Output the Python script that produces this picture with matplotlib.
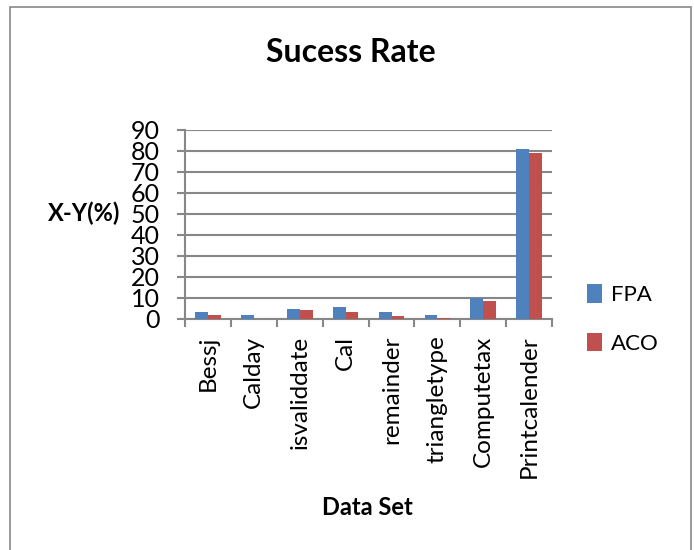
import matplotlib.pyplot as plt
import numpy as np
from matplotlib.patches import Rectangle

plt.rcParams['font.family'] = ['Lato', 'DejaVu Sans']

datasets = ["Bessj", "Calday", "isvaliddate", "Cal", "remainder",
            "triangletype", "Computetax", "Printcalender"]
fpa = [3.4, 1.9, 4.9, 5.6, 3.2, 1.9, 10.1, 81]
aco = [1.9, 0.0, 4.4, 3.5, 1.4, 0.6, 8.7, 79]
yticks = [0, 10, 20, 30, 40, 50, 60, 70, 80, 90]

grey = "#878787"

fig = plt.figure(figsize=(6.94, 5.5), dpi=100)
ax = fig.add_axes([0.2666, 0.42, 0.529, 0.344])

x = np.arange(len(datasets))
w = 0.28
ax.bar(x - w / 2, fpa, w, color="#4F81BD", label="FPA", zorder=3)
ax.bar(x + w / 2, aco, w, color="#C0504D", label="ACO", zorder=3)

ax.set_xlim(-0.5, len(datasets) - 0.5)
ax.set_ylim(0, 90)
ax.set_yticks(yticks)
ax.tick_params(axis="y", length=6, width=1.5, color=grey, labelsize=18, pad=12)
ax.yaxis.grid(True, color=grey, linewidth=1.5, zorder=0)

ax.set_xticks(x)
ax.set_xticklabels(datasets, rotation=90, fontsize=17.5)
ax.tick_params(axis="x", length=0, pad=12)
ax.set_xticks(np.arange(-0.5, len(datasets)), minor=True)
ax.tick_params(axis="x", which="minor", length=6, width=1.5, color=grey)

for s in ["top", "right"]:
    ax.spines[s].set_visible(False)
for s in ["left", "bottom"]:
    ax.spines[s].set_color(grey)
    ax.spines[s].set_linewidth(1.5)

fig.text(0.505, 0.905, "Sucess Rate", ha="center", va="center",
         fontsize=23, fontweight="bold")
fig.text(0.121, 0.612, "X-Y(%)", ha="center", va="center",
         fontsize=17, fontweight="bold")
fig.text(0.53, 0.078, "Data Set", ha="center", va="center",
         fontsize=17, fontweight="bold")

ax.legend(loc="center left", bbox_to_anchor=(1.04, 0.0), frameon=False,
          fontsize=16, handlelength=0.7, handleheight=0.9,
          handletextpad=0.4, labelspacing=1.25)

fig.patches.append(Rectangle((0.015, -0.01), 0.98, 0.998, transform=fig.transFigure,
                             fill=False, edgecolor=grey, linewidth=1.2))

plt.savefig("out.png", dpi=100)
